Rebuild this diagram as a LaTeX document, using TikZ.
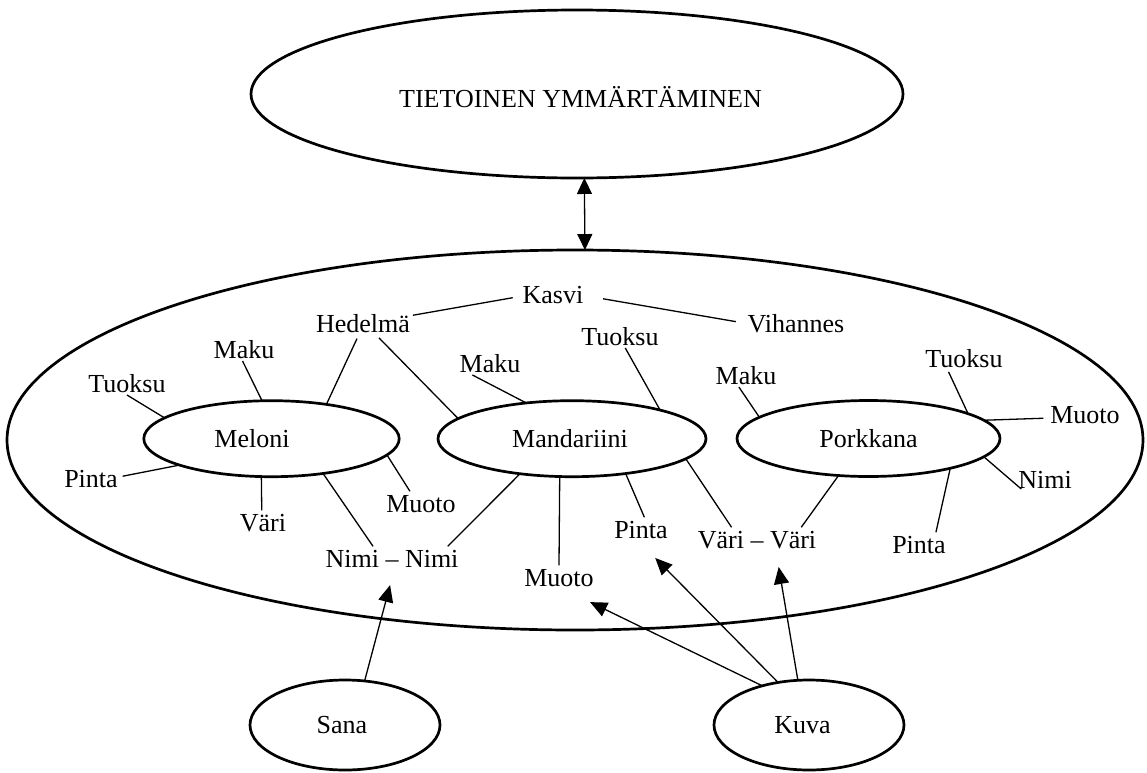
\documentclass[tikz,border=0pt]{standalone}
\usepackage{fontspec}
\setmainfont{Liberation Serif}
\usetikzlibrary{shapes.geometric, arrows.meta}
\begin{document}
\begin{tikzpicture}[x=0.5pt, y=-0.5pt,
  every node/.style={font=\fontsize{13pt}{15pt}\selectfont},
  ell/.style={draw, ellipse, line width=1.35pt, inner sep=0pt, outer sep=0pt},
  lbl/.style={inner sep=1.5pt, outer sep=0pt, text height=8.85pt, text depth=0pt},
  tb/.style={lbl, anchor=base},
  con/.style={line width=0.65pt},
  arr/.style={line width=0.65pt, -{Triangle[length=8.5pt,width=7.5pt]}},
  darr/.style={line width=0.65pt, {Triangle[length=8pt,width=7.5pt]}-{Triangle[length=8pt,width=7.5pt]}},
]
\useasboundingbox (0,0) rectangle (1147,772);

% ellipses
\node[ell, minimum width=326pt, minimum height=84pt,
  label={[lbl,xshift=1.75pt,yshift=-2.5pt]center:TIETOINEN YMMÄRTÄMINEN}] (top) at (577,94) {};
\node[ell, minimum width=568pt, minimum height=190pt] (main) at (575,440) {};
\node[ell, minimum width=127.7pt, minimum height=38pt,
  label={[lbl,xshift=-9.75pt]center:Meloni}] (meloni) at (271.5,438.7) {};
\node[ell, minimum width=134pt, minimum height=38pt,
  label={[lbl,xshift=-1pt]center:Mandariini}] (mand) at (572,438.7) {};
\node[ell, minimum width=131.5pt, minimum height=38pt,
  label={[lbl]center:Porkkana}] (pork) at (868.5,438.5) {};
\node[ell, minimum width=95pt, minimum height=45pt,
  label={[lbl,xshift=-1.5pt]center:Sana}] (sana) at (345,725) {};
\node[ell, minimum width=95pt, minimum height=45pt,
  label={[lbl,xshift=-3.25pt]center:Kuva}] (kuva) at (809,725) {};

% text labels
\node[tb] (hed) at (363,332) {Hedelmä};
\node[tb] (kasvi) at (553,303) {Kasvi};
\node[tb] (vih) at (796,332) {Vihannes};
\node[tb] (maku1) at (244,358) {Maku};
\node[tb] (tuoksu1) at (127,392) {Tuoksu};
\node[tb] (pinta1) at (91,487) {Pinta};
\node[tb] (vari1) at (263,531) {Väri};
\node[tb] (muoto1) at (421,512) {Muoto};
\node[tb] (nimi) at (392,567) {Nimi – Nimi};
\node[tb] (maku2) at (490,372) {Maku};
\node[tb] (tuoksu2) at (620,345) {Tuoksu};
\node[tb] (muoto2) at (559,586) {Muoto};
\node[tb] (pinta2) at (641,538) {Pinta};
\node[tb] (vv) at (757,548) {Väri – Väri};
\node[tb] (maku3) at (746,384) {Maku};
\node[tb] (tuoksu3) at (964,367) {Tuoksu};
\node[tb] (muoto3) at (1085,423) {Muoto};
\node[tb] (nimi3) at (1045,488) {Nimi};
\node[tb] (pinta3) at (919,553) {Pinta};

% connectors
\draw[con, shorten <=3.5pt] (kasvi.184) -- (hed.9.3);
\draw[con, shorten <=8.5pt, shorten >=4.5pt] (kasvi.-3.3) -- (vih.180);

\draw[con] (tuoksu1.-90) -- (meloni.169.3);
\draw[con] (maku1.-97.7) -- (meloni.104.8);
\draw[con, shorten <=2pt] (hed.-110.4) -- (meloni.32.3);
\draw[con, shorten <=1pt] (pinta1.3.4) -- (meloni.196);
\draw[con] (vari1.96.3) -- (meloni.255.7);
\draw[con] (muoto1.133) -- (meloni.-8.2);
\draw[con] (nimi.148.8) -- (meloni.-34.1);

\draw[con, shorten <=2pt] (hed.-42.5) -- (mand.170.1);
\draw[con] (maku2.-146.6) -- (mand.142.6);
\draw[con] (tuoksu2.-66.7) -- (mand.18.1);
\draw[con] (vv.155.5) -- (mand.-10.4);
\draw[con] (pinta2.74.2) -- (mand.-33.9);
\draw[con] (muoto2.90) -- (mand.-108.7);
\draw[con] (nimi.12.2) -- (mand.-146.1);

\draw[con] (maku3.-121.2) -- (pork.169.9);
\draw[con, shorten <=1pt] (tuoksu3.-144.9) -- (pork.14.5);
\draw[con, shorten <=2pt] (muoto3.186.7) -- (pork.9.3);
\draw[con, shorten <=1.5pt] (nimi3.-151.6) -- (pork.-9.3);
\draw[con] (pinta3.35.8) -- (pork.-20.4);
\draw[con] (vv.15.2) -- (pork.-129.3);

% arrows
\draw[darr] (top.-85.9) -- (main.87.6);
\draw[arr, shorten >=7.8pt] (sana.66.5) -- (nimi.-80.4);
\draw[arr, shorten >=15pt] (kuva.140.1) -- (muoto2.-71.3);
\draw[arr, shorten >=11.9pt] (kuva.126.5) -- (pinta2.-102.8);
\draw[arr, shorten >=8.1pt] (kuva.104.6) -- (vv.-32.9);
\end{tikzpicture}
\end{document}
